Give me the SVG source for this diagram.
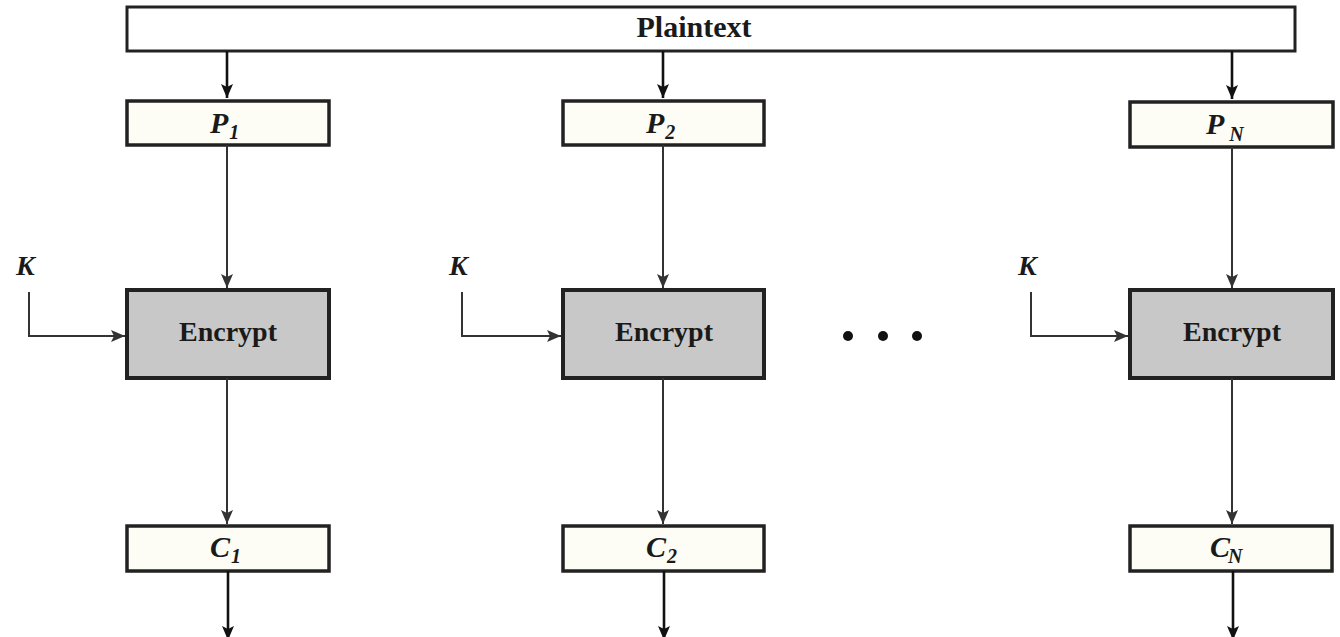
<svg xmlns="http://www.w3.org/2000/svg" width="1340" height="637" viewBox="0 0 1340 637">
  <defs>
    <marker id="ah" viewBox="0 0 14 12" refX="14" refY="6" markerWidth="14" markerHeight="12" markerUnits="userSpaceOnUse" orient="auto">
      <path d="M0,0 L14,6 L0,12 L3,6 z" fill="#111"/>
    </marker>
    <marker id="ahg" viewBox="0 0 14 12" refX="14" refY="6" markerWidth="14" markerHeight="12" markerUnits="userSpaceOnUse" orient="auto">
      <path d="M0,0 L14,6 L0,12 L3,6 z" fill="#333"/>
    </marker>
    <style>
      .blk { fill: #fdfdf6; stroke: #222; stroke-width: 3.5; }
      .top { fill: #ffffff; stroke: #222; stroke-width: 3; }
      .enc { fill: #c8c8c8; stroke: #222; stroke-width: 4; }
      .lbl { font-family: "Liberation Serif", serif; font-weight: bold; fill: #1a1a1a; text-anchor: middle; }
      .var { font-family: "Liberation Serif", serif; font-weight: bold; font-style: italic; fill: #1a1a1a; font-size: 30px; }
      .sub { font-size: 20px; }
      .feed { stroke: #111; stroke-width: 2.6; fill: none; }
      .flow { stroke: #333; stroke-width: 2; fill: none; }
    </style>
  </defs>

  <g id="plaintext">
    <rect class="top" x="127" y="7" width="1168" height="44"/>
    <text class="lbl" x="694" y="37" font-size="30">Plaintext</text>
  </g>

  <!-- column 1 -->
  <g id="p1">
    <rect class="blk" x="127" y="101" width="202" height="44"/>
    <text class="var" x="210" y="133">P<tspan class="sub" dx="1" dy="6">1</tspan></text>
  </g>
  <g id="enc1">
    <rect class="enc" x="127" y="290" width="202" height="88"/>
    <text class="lbl" x="228" y="341" font-size="28">Encrypt</text>
  </g>
  <g id="c1">
    <rect class="blk" x="127" y="526" width="202" height="45"/>
    <text class="var" x="210" y="557">C<tspan class="sub" dx="1" dy="6">1</tspan></text>
  </g>
  <g id="k1"><text class="var" x="16" y="275" font-size="28" style="font-size:28px">K</text></g>

  <!-- column 2 -->
  <g id="p2">
    <rect class="blk" x="563" y="101" width="201" height="44"/>
    <text class="var" x="646" y="133">P<tspan class="sub" dx="1" dy="6">2</tspan></text>
  </g>
  <g id="enc2">
    <rect class="enc" x="563" y="290" width="201" height="88"/>
    <text class="lbl" x="664" y="341" font-size="28">Encrypt</text>
  </g>
  <g id="c2">
    <rect class="blk" x="563" y="526" width="201" height="45"/>
    <text class="var" x="646" y="557">C<tspan class="sub" dx="1" dy="6">2</tspan></text>
  </g>
  <g id="k2"><text class="var" x="449" y="275" style="font-size:28px">K</text></g>

  <!-- column N -->
  <g id="pn">
    <rect class="blk" x="1130" y="102" width="203" height="45"/>
    <text class="var" x="1206" y="134">P<tspan class="sub" dx="5" dy="7">N</tspan></text>
  </g>
  <g id="encn">
    <rect class="enc" x="1130" y="290" width="203" height="88"/>
    <text class="lbl" x="1232" y="341" font-size="28">Encrypt</text>
  </g>
  <g id="cn">
    <rect class="blk" x="1130" y="526" width="202" height="45"/>
    <text class="var" x="1210" y="557">C<tspan class="sub" dx="-2" dy="6">N</tspan></text>
  </g>
  <g id="kn"><text class="var" x="1018" y="275" style="font-size:28px">K</text></g>

  <g id="ellipsis" fill="#111">
    <circle cx="848" cy="336" r="5"/>
    <circle cx="883" cy="336" r="5"/>
    <circle cx="917" cy="336" r="5"/>
  </g>

  <g id="connectors">
    <!-- plaintext split -->
    <line class="feed" x1="227" y1="51" x2="227" y2="98" marker-end="url(#ah)"/>
    <line class="feed" x1="663" y1="51" x2="663" y2="98" marker-end="url(#ah)"/>
    <line class="feed" x1="1232" y1="51" x2="1232" y2="99" marker-end="url(#ah)"/>
    <!-- block into cipher -->
    <line class="flow" x1="227" y1="145" x2="227" y2="288" marker-end="url(#ahg)"/>
    <line class="flow" x1="663" y1="145" x2="663" y2="288" marker-end="url(#ahg)"/>
    <line class="flow" x1="1232" y1="147" x2="1232" y2="288" marker-end="url(#ahg)"/>
    <!-- key inputs -->
    <polyline class="flow" points="29,292 29,336 125,336" marker-end="url(#ahg)"/>
    <polyline class="flow" points="462,292 462,336 561,336" marker-end="url(#ahg)"/>
    <polyline class="flow" points="1031,292 1031,336 1128,336" marker-end="url(#ahg)"/>
    <!-- cipher output -->
    <line class="flow" x1="227" y1="378" x2="227" y2="524" marker-end="url(#ahg)"/>
    <line class="flow" x1="663" y1="378" x2="663" y2="524" marker-end="url(#ahg)"/>
    <line class="flow" x1="1232" y1="378" x2="1232" y2="524" marker-end="url(#ahg)"/>
    <!-- ciphertext out -->
    <line class="feed" x1="228" y1="571" x2="228" y2="640" marker-end="url(#ah)"/>
    <line class="feed" x1="664" y1="571" x2="664" y2="640" marker-end="url(#ah)"/>
    <line class="feed" x1="1233" y1="571" x2="1233" y2="640" marker-end="url(#ah)"/>
  </g>
</svg>
